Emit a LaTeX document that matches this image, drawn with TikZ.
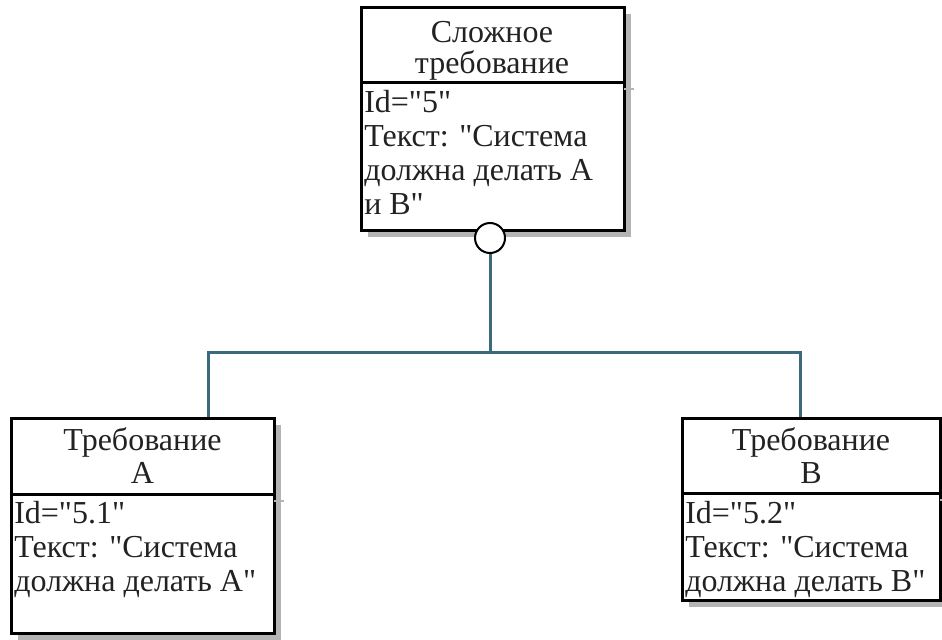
\documentclass[tikz,border=0pt]{standalone}
\usepackage{fontspec}
\setmainfont{Liberation Serif}[Ligatures=TeXOff]
\newfontfamily\boxfont{Liberation Serif}[Ligatures=TeXOff]
\usetikzlibrary{fit,calc}

\definecolor{linkteal}{HTML}{3B6A7C}
\definecolor{shadegray}{HTML}{B4B4B4}
\definecolor{inkgray}{HTML}{222222}

% stacked lines whose reference point is the first baseline
\newcommand{\leftlines}[1]{\begin{tabular}[t]{@{}l@{}}#1\end{tabular}}
\newcommand{\midlines}[1]{\begin{tabular}[t]{@{}c@{}}#1\end{tabular}}

\tikzset{
  classbox/.style={draw=black, line width=2.25pt, fill=white, inner sep=0pt},
  divider/.style={draw=black, line width=2.25pt},
  boxshade/.style={fill=shadegray},
  label/.style={inner sep=0pt, text=inkgray,
                font=\boxfont\fontsize{24pt}{#1}\selectfont},
  label/.default={25.5pt},
  conn/.style={draw=linkteal, line width=2.25pt, line join=miter},
  aggmark/.style={circle, draw=black, line width=1.5pt, fill=white,
                  minimum size=22.5pt, inner sep=0pt},
}

% a class box: name, NW corner, SE corner, divider y
\newcommand{\classframe}[4]{%
  \fill[boxshade] ($#2+(7,7)$) rectangle ($#3+(7,7)$);
  \node[classbox, fit={#2 #3}] (#1) {};
  \path let \p1=#2, \p2=#3 in
    coordinate (#1-dl) at (\x1,#4)
    coordinate (#1-dr) at (\x2,#4);
  \draw[shadegray, line width=2pt] ($(#1-dr)+(0,7)$) -- ++(10,0);
  \draw[divider] (#1-dl) -- (#1-dr);
}

\begin{document}
\begin{tikzpicture}[x=0.75pt, y=-0.75pt]
\useasboundingbox (0,0) rectangle (942,639);

% composite requirement
\classframe{top}{(361,7)}{(624,230)}{82}
\node[label=22pt, anchor=base] (topname) at (492,42)
  {\midlines{Сложное\\требование}};
\node[label, anchor=base west] (topbody) at (364,112)
  {\leftlines{Id="5"\\Текст: "Система\\должна делать А\\и В"}};

% requirement A
\classframe{reqA}{(11,418)}{(274,633)}{494}
\node[label=24.75pt, anchor=base] (reqAname) at (142.5,450)
  {\midlines{Требование\\А}};
\node[label, anchor=base west] (reqAbody) at (14,523)
  {\leftlines{Id="5.1"\\Текст: "Система\\должна делать А"}};

% requirement B
\classframe{reqB}{(682,418)}{(940,600)}{493}
\node[label=24.75pt, anchor=base] (reqBname) at (811,450)
  {\midlines{Требование\\В}};
\node[label, anchor=base west] (reqBbody) at (685,523)
  {\leftlines{Id="5.2"\\Текст: "Система\\должна делать В"}};

% aggregation connector
\coordinate (busL) at (208,352);
\coordinate (busR) at (800,352);
\node[aggmark] (agg) at (490,238) {};
\draw[conn] (agg.south) -- (agg.south |- busL);
\draw[conn] (reqA.north -| busL) -- (busL) -- (busR) -- (reqB.north -| busR);
\end{tikzpicture}
\end{document}
